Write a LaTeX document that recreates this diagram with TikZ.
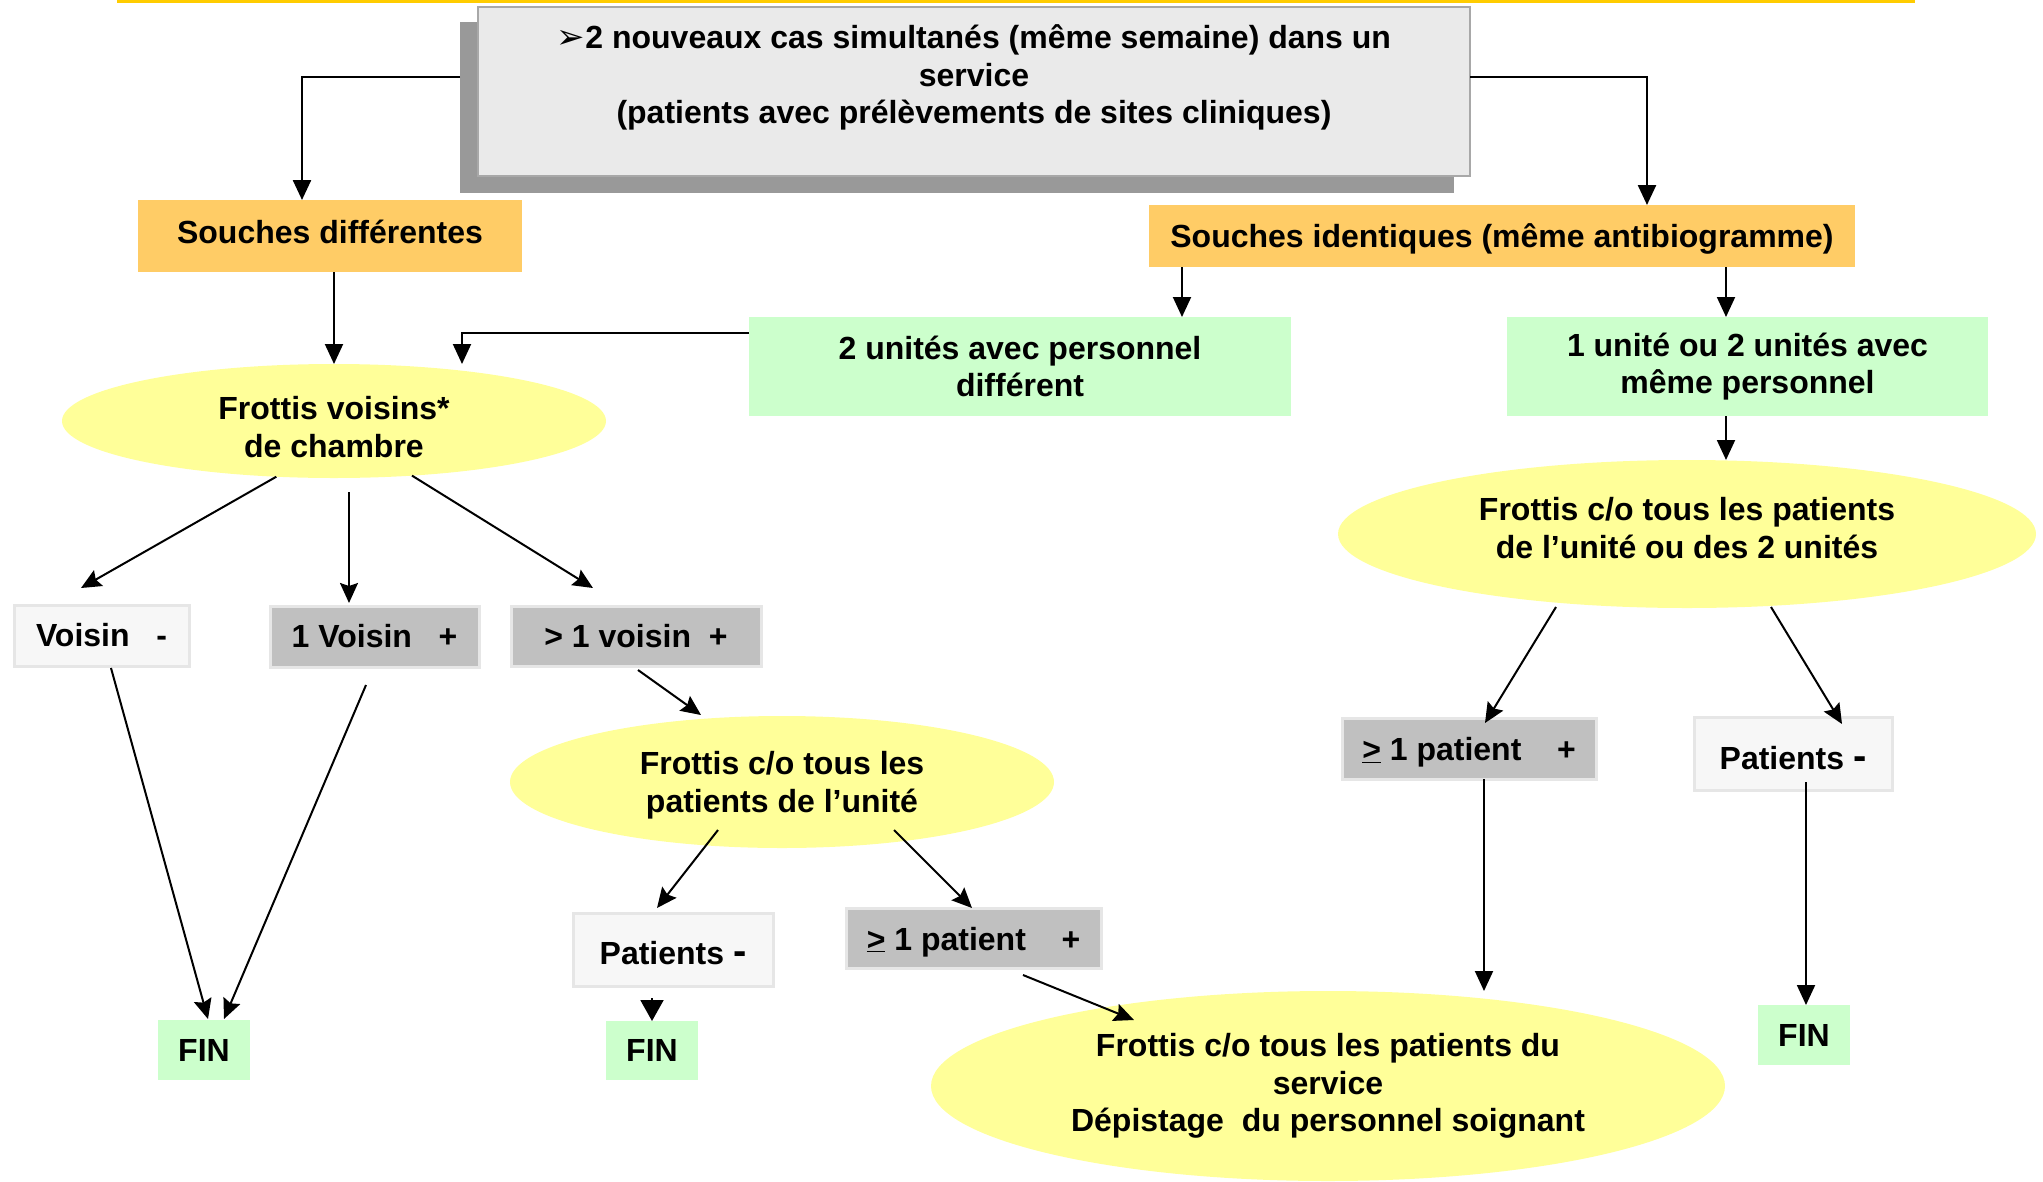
\documentclass[tikz,border=0pt]{standalone}
\usepackage{fontspec}
\setmainfont{Liberation Sans}
\newfontfamily\dejavu{DejaVu Sans}
\usetikzlibrary{arrows.meta,calc,shapes.geometric}
\definecolor{goldline}{HTML}{FFCC00}
\definecolor{topfill}{HTML}{EAEAEA}
\definecolor{topdraw}{HTML}{A8A8A8}
\definecolor{shadowc}{HTML}{999999}
\definecolor{orangef}{HTML}{FFCC66}
\definecolor{greenf}{HTML}{CCFFCC}
\definecolor{yellowf}{HTML}{FFFF99}
\definecolor{grayf}{HTML}{C0C0C0}
\definecolor{lightf}{HTML}{F7F7F7}
\definecolor{lightd}{HTML}{E6E6E6}
\newcommand{\bigdash}{{\fontsize{40}{40}\selectfont -}}
\begin{document}
\begin{tikzpicture}[x=1pt,y=-1pt,
  every node/.style={font=\fontsize{32}{37.5}\selectfont\bfseries, align=center, inner sep=0pt, outer sep=0pt},
  orangebox/.style={rectangle, fill=orangef},
  greenbox/.style={rectangle, fill=greenf},
  graybox/.style={rectangle, fill=grayf, draw=lightd, line width=3pt},
  lightbox/.style={rectangle, fill=lightf, draw=lightd, line width=3pt},
  yell/.style={ellipse, fill=yellowf},
  arr/.style={line width=2pt, -{Stealth[length=20pt,width=18pt,inset=3pt]}},
  arrT/.style={line width=2pt, -{Triangle[length=20pt,width=18pt]}}]
\useasboundingbox (0,0) rectangle (2043,1181);
% top yellow line
\fill[goldline] (117,0) rectangle (1915,3);
% top box with shadow
\node[rectangle, fill=shadowc, minimum width=994pt, minimum height=171pt] (shd) at (957,107.5) {};
\node[rectangle, fill=topfill, draw=topdraw, line width=2pt, minimum width=992pt, minimum height=169pt] (top) at (974,91.5) {};
\node (toptext) at (974,77.5) {{\dejavu\fontsize{34}{34}\selectfont ➢}2 nouveaux cas simultanés (même semaine) dans un\\service\\(patients avec prélèvements de sites cliniques)};
% level 2
\node[orangebox, minimum width=384pt, minimum height=72pt, label={[yshift=4pt]center:Souches différentes}] (sd) at (330,236) {};
\node[orangebox, minimum width=706pt, minimum height=62pt, label={[yshift=-3pt]center:Souches identiques (même antibiogramme)}] (si) at (1502,236) {};
% level 3
\node[greenbox, minimum width=542pt, minimum height=99pt] (g1) at (1020,366.5) {2 unités avec personnel\\différent};
\node[greenbox, minimum width=481pt, minimum height=99pt] (g2) at (1747.5,366.5) {1 unité ou 2 unités avec\\même personnel};
\node[yell, minimum width=544pt, minimum height=114pt, label={[yshift=-6pt]center:Frottis voisins*\\de chambre}] (ell1) at (334,421) {};
\node[yell, minimum width=698pt, minimum height=148pt, label={[yshift=6pt]center:Frottis c/o tous les patients\\de l’unité ou des 2 unités}] (ell3) at (1687,534) {};
% neighbours
\node[lightbox, minimum width=175pt, minimum height=61pt] (v1) at (101.5,635.5) {Voisin\ \ \ -};
\node[graybox, minimum width=209pt, minimum height=61pt] (v2) at (374.5,636.5) {1 Voisin\ \ \ +};
\node[graybox, minimum width=250pt, minimum height=60pt] (v3) at (636,636) {> 1 voisin\ \ +};
\node[yell, minimum width=544pt, minimum height=132pt, label={[yshift=-3pt]center:Frottis c/o tous les\\patients de l’unité}] (ell2) at (782,782) {};
\node[lightbox, minimum width=200pt, minimum height=73pt, label={[yshift=-4pt]center:Patients \bigdash}] (pm) at (673,949.5) {};
\node[graybox, minimum width=255pt, minimum height=60pt, label={[yshift=-4pt]center:\underline{>} 1 patient\ \ \ \ +}] (pp) at (973.5,938) {};
\node[greenbox, minimum width=92pt, minimum height=60pt] (fin1) at (204,1050) {FIN};
\node[greenbox, minimum width=92pt, minimum height=59pt] (fin2) at (652,1050.5) {FIN};
\node[yell, minimum width=794pt, minimum height=190pt] (ell4) at (1328,1086) {Frottis c/o tous les patients du\\service\\Dépistage\ \ du personnel soignant};
\node[graybox, minimum width=254pt, minimum height=61pt, label={[yshift=-4pt]center:\underline{>} 1 patient\ \ \ \ +}] (rp) at (1469,748.5) {};
\node[lightbox, minimum width=198pt, minimum height=73pt, label={[yshift=-5pt]center:Patients \bigdash}] (rm) at (1793,753.5) {};
\node[greenbox, minimum width=92pt, minimum height=60pt] (fin3) at (1804,1035) {FIN};
% connectors
\draw[arrT, line width=2.5pt] ($(shd.north west)+(0,55)$) -| ($(sd.north west)+(164,0)$);
\draw[arrT, line width=2.5pt] ($(top.north east)+(0,70)$) -| ($(si.north west)+(498,0)$);
\draw[arrT] (sd.south -| ell1.north) -- (ell1.north);
\coordinate (a1) at ($(si.south west)+(33,0)$);
\draw[arrT] (a1) -- (a1 |- g1.north);
\coordinate (a2) at ($(si.south west)+(577,0)$);
\draw[arrT] (a2) -- (a2 |- g2.north);
\draw[arrT] ($(g1.north west)+(0,16)$) -| ($(ell1.north)+(128,0)$);
\draw[arrT] (a2 |- g2.south) -- (a2 |- ell3.north);
\draw[arr] (ell1.224) -- ($(v1.north west)+(67,-17)$);
\draw[arr] ($(ell1.south)+(15,14)$) -- ($(v2.north west)+(79,-3)$);
\draw[arr] (ell1.325) -- ($(v3.north west)+(82,-18)$);
\draw[arr] ($(v1.south west)+(97,2)$) -- ($(fin1.north west)+(50,-1)$);
\draw[arr] ($(v2.south west)+(96,18)$) -- ($(fin1.north west)+(66,-1)$);
\draw[arr] ($(v3.south west)+(127,4)$) -- ($(ell2.north)+(-81,-1)$);
\draw[arr] ($(ell2.south)+(-64,-18)$) -- ($(pm.north west)+(84,-5)$);
\draw[arr] ($(ell2.south)+(112,-18)$) -- ($(pp.north west)+(126,0)$);
\draw[line width=2pt, -{Triangle[length=21pt,width=23pt]}, shorten <=12pt] (pm.south -| fin2.north) -- (fin2.north);
\draw[arr] ($(pp.south west)+(177,7)$) -- ($(ell4.north)+(-194,29)$);
\draw[arr] ($(ell3.south)+(-131,-1)$) -- ($(rp.north west)+(143,5)$);
\draw[arr] ($(ell3.south)+(84,-1)$) -- ($(rm.north west)+(148,7)$);
\coordinate (a3) at ($(rp.south west)+(142,0)$);
\draw[arrT] (a3) -- (a3 |- ell4.north);
\coordinate (a4) at ($(rm.south west)+(112,-8)$);
\draw[arrT] (a4) -- (a4 |- fin3.north);
\end{tikzpicture}
\end{document}
